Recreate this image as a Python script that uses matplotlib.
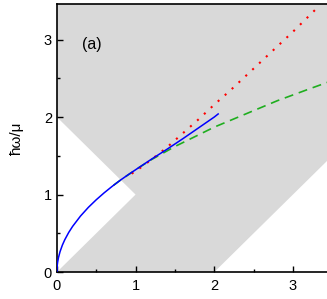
import matplotlib
matplotlib.use('Agg')
from matplotlib import pyplot as plt

plt.rcParams['font.family'] = ['Liberation Sans', 'DejaVu Sans']

# continuum boundaries (gray region), in units of k_F and mu
gray_k = [0.0, 1.0, 0.0, 0.0, 4.0, 4.0, 2.0]
gray_w = [0.0, 1.0, 2.0, 4.0, 4.0, 2.0, 0.0]

# plasmon dispersion (blue, solid)
blue_k = [0.0, 0.005, 0.01, 0.02, 0.04, 0.07, 0.1, 0.15, 0.2, 0.3, 0.4, 0.5,
          0.6, 0.7, 0.8, 0.9, 1.0, 1.2, 1.4, 1.6, 1.8, 2.0, 2.05]
blue_w = [0.0, 0.093, 0.132, 0.187, 0.264, 0.349, 0.417, 0.511, 0.59, 0.723,
          0.835, 0.933, 1.022, 1.104, 1.181, 1.252, 1.32, 1.455, 1.585, 1.72,
          1.86, 2.0, 2.04]

# long-wavelength approximation (green, dashed)
green_k = [0.72, 0.8, 1.0, 1.2, 1.5, 1.8, 2.0, 2.4, 2.8, 3.2, 3.5]
green_w = [1.12, 1.18, 1.32, 1.45, 1.62, 1.77, 1.87, 2.04, 2.21, 2.36, 2.47]

# large-k branch (red, dotted)
red_k = [0.95, 1.0, 1.2, 1.4, 1.6, 1.8, 2.0, 2.2, 2.4, 2.6, 2.8, 3.0, 3.2, 3.31]
red_w = [1.27, 1.30, 1.45, 1.61, 1.79, 1.97, 2.16, 2.34, 2.53, 2.72, 2.91,
         3.10, 3.30, 3.41]

xlim = 3.45
ylim = 3.46

fig = plt.figure(figsize=(3.27, 2.99), dpi=100)
ax = fig.add_axes([0.174, 0.090, 0.830, 0.897])

ax.fill(gray_k, gray_w, color='#d9d9d9', lw=0, zorder=0)
ax.plot(green_k, green_w, color='#1fae1f', lw=1.2, ls=(0, (5.4, 3.5)), zorder=2)
ax.plot(red_k, red_w, color='#ff0000', lw=1.5, ls=(0, (1, 3.5)), zorder=3)
ax.plot(blue_k, blue_w, color='#0000ff', lw=1.1, zorder=4)

ax.set_xlim(0, xlim)
ax.set_ylim(0, ylim)
ax.set_xticks([0, 1, 2, 3])
ax.set_yticks([0, 1, 2, 3])
ax.set_xticks([0.5, 1.5, 2.5], minor=True)
ax.set_yticks([0.5, 1.5, 2.5], minor=True)
ax.tick_params(which='both', direction='in', labelsize=10.5, width=1.0)
ax.tick_params(which='major', length=4)
ax.tick_params(which='minor', length=2.5)
ax.tick_params(axis='x', pad=5)
for s in ax.spines.values():
    s.set_linewidth(1.2)

ax.set_ylabel('ħω/μ', fontsize=11, labelpad=14)
ax.text(0.32, 2.93, '(a)', fontsize=11.5, va='center')

fig.savefig('out.png', dpi=100)
